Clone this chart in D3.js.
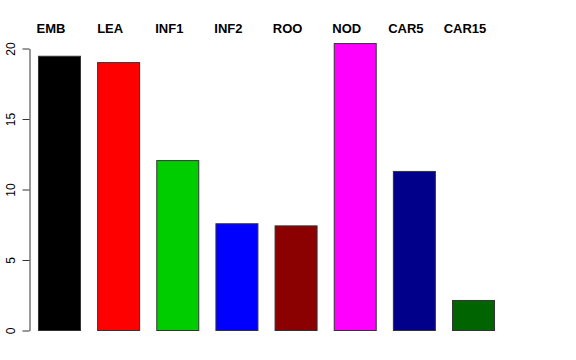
<!DOCTYPE html>
<html>
<head>
<meta charset="utf-8">
<script src="https://cdn.jsdelivr.net/npm/d3@7"></script>
<style>
  body { margin: 0; background: #fff; }
  svg { display: block; font-family: "Liberation Sans", Arial, sans-serif; }
</style>
</head>
<body>
<div class="svg"></div>
<script>
const categories = ['EMB', 'LEA', 'INF1', 'INF2', 'ROO', 'NOD', 'CAR5', 'CAR15'];
const values = [19.45, 19.0, 12.05, 7.57, 7.42, 20.35, 11.28, 2.13];
const barColors = ['#000000', '#FF0000', '#00CD00', '#0000FF', '#8B0000', '#FF00FF', '#00008B', '#006400'];
const yTicks = [0, 5, 10, 15, 20];

const width = 576, height = 360;
const plot = { left: 38, right: 494, top: 48.5, bottom: 330.5 };

const svg = d3.select('.svg').append('svg')
  .attr('width', width)
  .attr('height', height);

const x = d3.scaleBand()
  .domain(categories)
  .range([plot.left - 8.6, plot.right + 8.6])
  .paddingInner(0.29)
  .paddingOuter(0.145);

const y = d3.scaleLinear()
  .domain([0, 20])
  .range([plot.bottom, plot.top]);

// bars
svg.append('g')
  .selectAll('rect')
  .data(categories)
  .enter()
  .append('rect')
  .attr('x', d => x(d) + 0.5)
  .attr('y', (d, i) => y(values[i]))
  .attr('width', x.bandwidth())
  .attr('height', (d, i) => y(0) - y(values[i]))
  .attr('fill', (d, i) => barColors[i])
  .attr('stroke', '#333')
  .attr('stroke-width', 1);

// category labels on top (sit a bit left of the bar centres, as in the original)
svg.append('g')
  .selectAll('text')
  .data(categories)
  .enter()
  .append('text')
  .attr('x', d => x(d) + x.bandwidth() / 2 - 8)
  .attr('y', 32.5)
  .attr('text-anchor', 'middle')
  .attr('font-weight', 'bold')
  .attr('font-size', 13)
  .text(d => d);

// y axis
const yAxis = svg.append('g')
  .attr('transform', 'translate(29.5,0)')
  .call(d3.axisLeft(y).tickValues(yTicks).tickSize(7).tickSizeOuter(0).tickFormat(d3.format('d')));

yAxis.select('.domain').attr('stroke', '#333');
yAxis.selectAll('.tick line').attr('stroke', '#333');
yAxis.selectAll('.tick text')
  .attr('font-family', '"Liberation Sans", Arial, sans-serif')
  .attr('font-size', 12)
  .attr('fill', '#000')
  .attr('transform', 'rotate(-90)')
  .attr('x', 0)
  .attr('y', -15)
  .attr('dy', 0)
  .style('text-anchor', 'middle');
</script>
</body>
</html>
